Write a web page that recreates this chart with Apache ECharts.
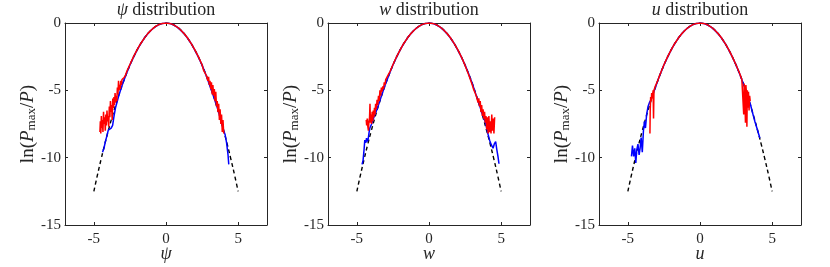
<!DOCTYPE html>
<html><head><meta charset="utf-8">
<script src="https://cdn.jsdelivr.net/npm/echarts@6/dist/echarts.min.js"></script>
<style>html,body{margin:0;padding:0;background:#fff}#c{width:830px;height:267px}</style>
</head><body><div id="c"></div>
<script>
// ---- labels / ticks ----
const panelVars = ['ψ', 'w', 'u'];
const xTicks = [-5, 0, 5];
const yTicks = [0, -5, -10, -15];

// ---- Gaussian reference (dashed) ----
const gaussX = [-5,-4.75,-4.5,-4.25,-4,-3.75,-3.5,-3.25,-3,-2.75,-2.5,-2.25,-2,-1.75,-1.5,-1.25,-1,-0.75,-0.5,-0.25,0,0.25,0.5,0.75,1,1.25,1.5,1.75,2,2.25,2.5,2.75,3,3.25,3.5,3.75,4,4.25,4.5,4.75,5];
const gaussY = [-12.5,-11.28,-10.125,-9.03,-8,-7.03,-6.125,-5.28,-4.5,-3.78,-3.125,-2.53,-2,-1.53,-1.125,-0.78,-0.5,-0.28,-0.125,-0.03,0,-0.03,-0.125,-0.28,-0.5,-0.78,-1.125,-1.53,-2,-2.53,-3.125,-3.78,-4.5,-5.28,-6.125,-7.03,-8,-9.03,-10.125,-11.28,-12.5];

// ---- psi panel ----
const psiBlueX = [-4.4,-4.3,-4.2,-4.1,-4.0,-3.9,-3.8,-3.7,-3.6,-3.5,-3.4,-3.3,-3.2,-3.0,-2.75,-2.5,-2.25,-2.0,-1.75,-1.5,-1.25,-1.0,-0.75,-0.5,-0.25,0,0.25,0.5,0.75,1.0,1.25,1.5,1.75,2.0,2.25,2.5,2.75,3.0,3.25,3.5,3.75,3.9,4.0,4.1,4.2,4.3,4.35];
const psiBlueY = [-9.6,-9.3,-8.8,-8.4,-7.95,-7.85,-7.8,-7.6,-6.9,-6.3,-5.9,-5.5,-5.15,-4.5,-3.78,-3.12,-2.53,-2.0,-1.53,-1.12,-0.78,-0.5,-0.28,-0.12,-0.03,0,-0.03,-0.13,-0.29,-0.51,-0.79,-1.13,-1.54,-2.01,-2.54,-3.13,-3.8,-4.55,-5.3,-6.1,-7.0,-7.6,-8.0,-8.3,-8.9,-9.8,-10.5];
const psiRedX = [-4.58,-4.55,-4.52,-4.48,-4.45,-4.41,-4.37,-4.33,-4.29,-4.25,-4.21,-4.17,-4.13,-4.09,-4.05,-4.01,-3.97,-3.93,-3.89,-3.85,-3.81,-3.77,-3.73,-3.69,-3.65,-3.61,-3.57,-3.53,-3.49,-3.45,-3.41,-3.37,-3.33,-3.29,-3.25,-3.21,-3.17,-3.13,-3.09,-3.05,-3.0,-2.9,-2.8,-2.7,
  -2.5,-2.25,-2.0,-1.75,-1.5,-1.25,-1.0,-0.75,-0.5,-0.25,0,0.25,0.5,0.75,1.0,1.25,1.5,1.75,2.0,2.25,
  2.5,2.6,2.7,2.8,2.9,2.95,3.0,3.05,3.1,3.15,3.2,3.25,3.3,3.35,3.4,3.45,3.5,3.55,3.6,3.65,3.7,3.75,3.8,3.85,3.9,3.95,4.0];
const psiRedY = [-8.1,-7.3,-8.2,-6.9,-7.8,-7.2,-8.1,-6.6,-7.5,-7.0,-8.0,-6.8,-7.6,-6.5,-7.3,-6.9,-7.7,-6.2,-7.0,-5.8,-6.6,-6.1,-7.2,-5.6,-6.3,-5.5,-6.1,-5.2,-5.9,-5.4,-5.8,-4.8,-5.3,-4.3,-5.0,-4.6,-4.9,-4.3,-4.6,-4.2,-4.3,-4.05,-3.85,-3.55,
  -3.08,-2.5,-1.98,-1.52,-1.12,-0.77,-0.5,-0.27,-0.12,-0.03,0,-0.03,-0.12,-0.28,-0.5,-0.78,-1.12,-1.53,-2.0,-2.52,
  -3.1,-3.5,-3.7,-3.9,-4.3,-4.0,-4.6,-4.3,-4.9,-4.4,-5.3,-4.6,-5.4,-4.9,-5.8,-5.1,-6.2,-5.8,-6.6,-6.0,-7.2,-6.4,-7.5,-6.8,-8.1,-7.2,-8.2];

// ---- w panel ----
const wBlueX = [-4.64,-4.57,-4.5,-4.45,-4.38,-4.33,-4.27,-4.22,-4.15,-4.1,-4.0,-3.92,-3.8,-3.6,-3.4,-3.2,-3.0,-2.75,
  -2.5,-2.25,-2.0,-1.75,-1.5,-1.25,-1.0,-0.75,-0.5,-0.25,0,0.25,0.5,0.75,1.0,1.25,1.5,1.75,2.0,2.25,2.5,
  2.75,3.0,3.25,3.5,3.7,3.8,3.9,4.0,4.1,4.2,4.3,4.44,4.52,4.62,4.7,4.78,4.85];
const wBlueY = [-10.5,-10.2,-9.4,-8.7,-8.9,-8.55,-8.8,-8.65,-8.1,-7.8,-7.55,-7.3,-6.95,-6.4,-5.75,-5.1,-4.5,-3.78,
  -3.12,-2.53,-2.0,-1.53,-1.12,-0.78,-0.5,-0.28,-0.12,-0.03,0,-0.03,-0.13,-0.29,-0.51,-0.79,-1.13,-1.54,-2.01,-2.54,-3.13,
  -3.78,-4.5,-5.3,-6.1,-6.8,-7.05,-7.35,-7.8,-8.3,-8.7,-9.0,-9.3,-9.0,-8.8,-9.4,-9.9,-10.45];
const wRedX = [-4.35,-4.32,-4.28,-4.24,-4.2,-4.16,-4.12,-4.09,-4.06,-4.02,-3.98,-3.94,-3.9,-3.86,-3.82,-3.78,-3.74,-3.7,-3.65,-3.6,-3.55,-3.5,-3.45,-3.4,-3.35,-3.3,-3.25,-3.2,-3.15,-3.1,-3.05,-3.0,-2.9,-2.8,-2.7,
  -2.5,-2.25,-2.0,-1.75,-1.5,-1.25,-1.0,-0.75,-0.5,-0.25,0,0.25,0.5,0.75,1.0,1.25,1.5,1.75,2.0,2.25,
  2.5,2.75,3.0,3.1,3.2,3.3,3.4,3.45,3.5,3.55,3.6,3.65,3.7,3.75,3.8,3.85,3.9,3.95,4.0,4.05,4.1,4.15,4.2,4.25,4.3,4.35,4.4,4.45,4.5,4.55];
const wRedY = [-7.2,-7.6,-7.1,-7.7,-8.0,-7.3,-7.0,-6.0,-7.4,-6.8,-7.5,-6.6,-7.3,-6.5,-7.0,-6.3,-6.8,-6.0,-6.4,-5.7,-6.1,-5.4,-5.8,-5.0,-5.4,-4.8,-5.1,-4.7,-4.9,-4.4,-4.6,-4.2,-4.1,-3.8,-3.6,
  -3.1,-2.51,-1.99,-1.52,-1.12,-0.78,-0.5,-0.28,-0.12,-0.03,0,-0.03,-0.12,-0.28,-0.5,-0.78,-1.12,-1.53,-2.0,-2.53,
  -3.15,-3.85,-4.6,-4.95,-5.2,-5.5,-5.9,-5.6,-6.2,-5.8,-6.6,-6.1,-6.9,-6.4,-7.1,-6.6,-7.4,-6.9,-7.9,-7.0,-8.2,-6.9,-8.1,-7.3,-8.2,-6.8,-8.0,-7.1,-8.2,-7.0];

// ---- u panel ----
const uBlueX = [-4.75,-4.68,-4.6,-4.52,-4.45,-4.38,-4.3,-4.22,-4.15,-4.08,-4.0,-3.92,-3.85,-3.78,-3.7,-3.6,-3.5,-3.4,-3.3,-3.1,-2.9,-2.75,
  -2.5,-2.25,-2.0,-1.75,-1.5,-1.25,-1.0,-0.75,-0.5,-0.25,0,0.25,0.5,0.75,1.0,1.25,1.5,1.75,2.0,2.25,2.5,
  2.75,3.0,3.2,3.3,3.4,3.5,3.6,3.7,3.8,3.9,4.0,4.08,4.15];
const uBlueY = [-9.9,-9.1,-9.9,-9.3,-10.4,-9.4,-9.0,-9.8,-9.3,-8.5,-9.6,-8.0,-7.3,-7.8,-6.8,-6.2,-5.9,-5.7,-5.4,-4.8,-4.2,-3.78,
  -3.12,-2.53,-2.0,-1.53,-1.12,-0.78,-0.5,-0.28,-0.12,-0.03,0,-0.03,-0.13,-0.29,-0.51,-0.79,-1.13,-1.54,-2.01,-2.54,-3.13,
  -3.78,-4.5,-5.1,-5.45,-5.75,-6.05,-6.5,-6.9,-7.3,-7.65,-8.0,-8.3,-8.55];
const uRedX = [-3.47,-3.45,-3.42,-3.38,-3.35,-3.3,-3.25,-3.22,-3.19,-3.15,-3.1,-3.0,-2.9,-2.8,
  -2.5,-2.25,-2.0,-1.75,-1.5,-1.25,-1.0,-0.75,-0.5,-0.25,0,0.25,0.5,0.75,1.0,1.25,1.5,1.75,2.0,2.25,2.5,
  2.75,2.9,3.0,3.03,3.06,3.1,3.15,3.18,3.22,3.25,3.28,3.32,3.36,3.4,3.44,3.48];
const uRedY = [-8.2,-6.5,-5.5,-5.8,-5.2,-5.6,-5.0,-7.1,-5.0,-4.9,-4.7,-4.45,-4.2,-3.9,
  -3.1,-2.52,-1.99,-1.52,-1.12,-0.78,-0.5,-0.28,-0.12,-0.03,0,-0.03,-0.12,-0.28,-0.5,-0.78,-1.12,-1.53,-2.0,-2.53,-3.12,
  -3.75,-4.2,-4.3,-6.8,-4.5,-5.0,-7.4,-4.6,-5.2,-7.7,-5.0,-6.3,-5.1,-6.5,-5.4,-5.8];

const panels = [
  {bx: psiBlueX, by: psiBlueY, rx: psiRedX, ry: psiRedY},
  {bx: wBlueX, by: wBlueY, rx: wRedX, ry: wRedY},
  {bx: uBlueX, by: uBlueY, rx: uRedX, ry: uRedY}
];

const zip = (xs, ys) => xs.map((x, i) => [x, ys[i]]);
const FONT = '"Liberation Serif", "Times New Roman", serif';
const AX = '#262626';
const gridLefts = [65, 328, 599];

const grid = [], xAxis = [], yAxis = [], series = [];
panels.forEach((p, i) => {
  grid.push({left: gridLefts[i], top: 23, width: 202, height: 202, containLabel: false, outerBoundsMode: 'none'});
  const baseX = {
    type: 'value', gridIndex: i, min: -7, max: 7,
    axisLine: {show: true, onZero: false, lineStyle: {color: AX, width: 1}},
    axisTick: {show: true, inside: true, length: 3, customValues: xTicks, lineStyle: {color: AX}},
    splitLine: {show: false}
  };
  xAxis.push(Object.assign({}, baseX, {
    position: 'bottom',
    axisLabel: {show: true, customValues: xTicks, fontFamily: FONT, fontSize: 15, color: AX, margin: 7},
    name: '{i|' + panelVars[i] + '}', nameLocation: 'middle', nameGap: 20, nameMoveOverlap: false,
    nameTextStyle: {rich: {i: {fontFamily: FONT, fontStyle: 'italic', fontSize: 18, color: AX}}}
  }));
  xAxis.push(Object.assign({}, baseX, {
    position: 'top',
    axisLabel: {show: false},
    name: '{i|' + panelVars[i] + '}{n| distribution}', nameLocation: 'middle', nameGap: 4, nameMoveOverlap: false,
    nameTextStyle: {rich: {
      i: {fontFamily: FONT, fontStyle: 'italic', fontSize: 18, color: AX},
      n: {fontFamily: FONT, fontSize: 18, color: AX}
    }}
  }));
  const baseY = {
    type: 'value', gridIndex: i, min: -15, max: 0, interval: 5,
    axisLine: {show: true, onZero: false, lineStyle: {color: AX, width: 1}},
    axisTick: {show: true, inside: true, length: 3, lineStyle: {color: AX}},
    splitLine: {show: false}
  };
  yAxis.push(Object.assign({}, baseY, {
    position: 'left',
    axisLabel: {show: true, fontFamily: FONT, fontSize: 15, color: AX, margin: 4},
    name: '{a|ln(}{b|P}{c|max}{a|/}{b|P}{a|)}', nameLocation: 'middle', nameGap: 27, nameRotate: 90, nameMoveOverlap: false,
    nameTextStyle: {rich: {
      a: {fontFamily: FONT, fontSize: 19, color: AX, lineHeight: 20},
      b: {fontFamily: FONT, fontSize: 19, fontStyle: 'italic', color: AX, lineHeight: 20},
      c: {fontFamily: FONT, fontSize: 13, color: AX, lineHeight: 12, verticalAlign: 'bottom'}
    }}
  }));
  yAxis.push(Object.assign({}, baseY, {position: 'right', axisLabel: {show: false}}));

  const xi = 2 * i, yi = 2 * i;
  series.push({type: 'line', xAxisIndex: xi, yAxisIndex: yi, data: zip(gaussX, gaussY), symbol: 'none', smooth: true,
    lineStyle: {color: '#000', width: 1.4, type: [4, 3]}, z: 2, silent: true});
  series.push({type: 'line', xAxisIndex: xi, yAxisIndex: yi, data: zip(p.bx, p.by), symbol: 'none',
    lineStyle: {color: '#0000ff', width: 1.5}, z: 3, silent: true});
  series.push({type: 'line', xAxisIndex: xi, yAxisIndex: yi, data: zip(p.rx, p.ry), symbol: 'none',
    lineStyle: {color: '#ff0000', width: 1.5}, z: 4, silent: true});
});

const chart = echarts.init(document.getElementById('c'), null, {renderer: 'canvas'});
chart.setOption({animation: false, backgroundColor: '#fff', grid, xAxis, yAxis, series});
</script></body></html>
